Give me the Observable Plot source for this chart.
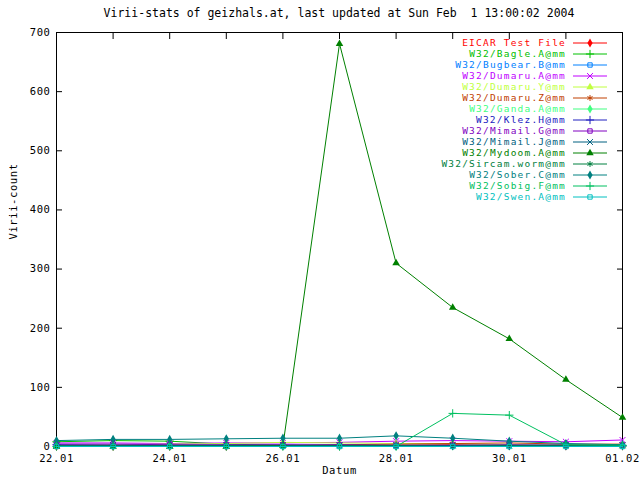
<!DOCTYPE html>
<html><head><meta charset="utf-8">
<script src="https://cdn.jsdelivr.net/npm/d3@7"></script>
<script src="https://cdn.jsdelivr.net/npm/@observablehq/plot@0.6"></script>
<style>
body{margin:0;background:#fff;}
#wrap{position:relative;width:640px;height:480px;font-family:"DejaVu Sans Mono",monospace;}
#title{position:absolute;left:0;top:6px;width:640px;padding-left:38px;box-sizing:border-box;text-align:center;font-size:11.5px;line-height:14px;white-space:pre;color:#000;}
#chart{position:absolute;left:0;top:0;}
</style></head><body>
<div id="wrap"><div id="chart"></div><div id="title">Virii-stats of geizhals.at, last updated at Sun Feb  1 13:00:02 2004</div></div>
<script>
const days = ["2004-01-22","2004-01-23","2004-01-24","2004-01-25","2004-01-26","2004-01-27","2004-01-28","2004-01-29","2004-01-30","2004-01-31","2004-02-01"];
const xLabelDays = ["2004-01-22","2004-01-24","2004-01-26","2004-01-28","2004-01-30","2004-02-01"];
const yTicks = [0,100,200,300,400,500,600,700];
const names = ["EICAR Test File","W32/Bagle.A@mm","W32/Bugbear.B@mm","W32/Dumaru.A@mm","W32/Dumaru.Y@mm","W32/Dumaru.Z@mm","W32/Ganda.A@mm","W32/Klez.H@mm","W32/Mimail.G@mm","W32/Mimail.J@mm","W32/Mydoom.A@mm","W32/Sircam.worm@mm","W32/Sober.C@mm","W32/Sobig.F@mm","W32/Swen.A@mm"];
const colors = ["#ff0000","#00c000","#0080ff","#c000ff","#c0ff40","#c04000","#40ff80","#2020c0","#8000c0","#006080","#008000","#008040","#008080","#00c060","#00c0c0"];
const symbols = ["diamond","plus","square2","times","triangle","asterisk","diamond","plus","square2","times","triangle","asterisk","diamond","plus","square2"];

const eicar    = [0,0,0,0,1,1,2,3,2,1,1];
const bagle    = [8,10,9,4,2,2,1,1,1,2,1];
const bugbear  = [1,1,1,1,1,1,1,1,2,3,1];
const dumaruA  = [6,6,5,6,6,7,9,10,9,8,11];
const dumaruY  = [2,3,4,5,7,6,5,5,3,2,1];
const dumaruZ  = [0,0,0,0,1,3,4,5,6,4,4];
const ganda    = [1,1,1,1,1,1,1,1,1,1,1];
const klez     = [3,2,2,2,2,1,1,1,1,1,1];
const mimailG  = [4,4,3,3,3,3,2,2,3,2,2];
const mimailJ  = [2,2,2,2,2,2,2,2,2,2,2];
const mydoom   = [0,0,0,0,1,681,310,235,182,113,49];
const sircam   = [1,1,1,1,1,1,1,0,1,1,1];
const sober    = [10,12,12,13,14,14,18,14,9,5,3];
const sobig    = [0,0,0,0,0,0,0,56,53,3,2];
const swen     = [0,0,0,0,0,0,0,0,0,0,0];
const seriesValues = [eicar,bagle,bugbear,dumaruA,dumaruY,dumaruZ,ganda,klez,mimailG,mimailJ,mydoom,sircam,sober,sobig,swen];

const toDate = s => new Date(s + "T00:00:00Z");
const dates = days.map(toDate);
const labelDates = xLabelDays.map(toDate);
const fmt = d3.utcFormat("%d.%m");
const filled = s => s === "diamond" || s === "triangle";

const seriesMarks = [];
seriesValues.forEach((vals, i) => {
  const rows = vals.map((v, j) => ({date: dates[j], value: v}));
  seriesMarks.push(Plot.line(rows, {x: "date", y: "value", stroke: colors[i], strokeWidth: 1}));
  seriesMarks.push(Plot.dot(rows, {x: "date", y: "value", symbol: () => symbols[i], r: 2.8,
    stroke: filled(symbols[i]) ? "none" : colors[i], fill: filled(symbols[i]) ? colors[i] : "none", strokeWidth: 1}));
});

const chart = Plot.plot({
  width: 640, height: 480,
  marginLeft: 56, marginRight: 18, marginTop: 32, marginBottom: 34,
  style: {fontFamily: "'DejaVu Sans Mono', monospace", fontSize: "10.5px", letterSpacing: "0.6px", background: "white", color: "black"},
  x: {type: "utc", domain: [dates[0], dates[dates.length - 1]], label: null},
  y: {domain: [0, 700], label: null},
  marks: [
    Plot.frame({stroke: "black"}),
    Plot.axisY(yTicks, {anchor: "left", tickSize: -6, tickFormat: () => "", label: null}),
    Plot.axisY(yTicks, {anchor: "right", tickSize: -6, tickFormat: () => "", label: null}),
    Plot.axisY(yTicks, {anchor: "left", tickSize: 0, tickPadding: 6, label: null}),
    Plot.axisX(dates, {anchor: "bottom", tickSize: -6, tickFormat: () => "", label: null}),
    Plot.axisX(dates, {anchor: "top", tickSize: -6, tickFormat: () => "", label: null}),
    Plot.axisX(labelDates, {anchor: "bottom", tickSize: 0, tickPadding: 8, tickFormat: fmt, label: null}),
    Plot.text(["Virii-count"], {text: d => d, frameAnchor: "left", rotate: -90, dx: -43}),
    Plot.text(["Datum"], {text: d => d, frameAnchor: "bottom", dy: 27}),
    ...seriesMarks
  ]
});
document.getElementById("chart").appendChild(chart);

// legend
const symMap = {
  diamond: d3.symbolDiamond,
  plus: d3.symbolPlus || d3.symbolCross,
  square2: d3.symbolSquare2 || d3.symbolSquare,
  times: d3.symbolTimes || d3.symbolCross,
  triangle: d3.symbolTriangle,
  asterisk: d3.symbolAsterisk || d3.symbolStar
};
const svg = d3.select(chart.tagName.toLowerCase() === "svg" ? chart : chart.querySelector("svg"));
const lg = svg.append("g").attr("font-family", "'DejaVu Sans Mono', monospace").attr("font-size", "9.5px").attr("letter-spacing", "1.2px");
names.forEach((n, i) => {
  const y = 43 + 11 * i;
  lg.append("text").attr("x", 566).attr("y", y).attr("dy", "0.35em").attr("text-anchor", "end").attr("fill", colors[i]).text(n);
  lg.append("line").attr("x1", 573).attr("x2", 607).attr("y1", y).attr("y2", y).attr("stroke", colors[i]);
  lg.append("path").attr("transform", `translate(590,${y})`).attr("d", d3.symbol(symMap[symbols[i]], 24)())
    .attr("fill", filled(symbols[i]) ? colors[i] : "none").attr("stroke", filled(symbols[i]) ? "none" : colors[i]);
});
</script>
</body></html>
